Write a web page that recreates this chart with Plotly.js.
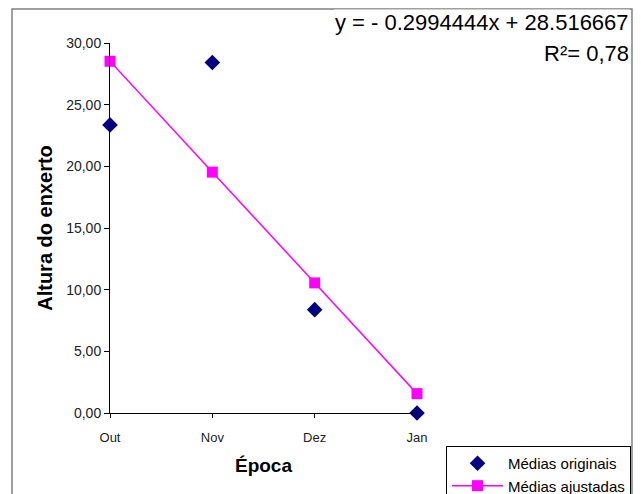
<!DOCTYPE html>
<html>
<head>
<meta charset="utf-8">
<script src="https://cdn.plot.ly/plotly-3.0.1.min.js"></script>
<style>html,body{margin:0;padding:0;background:#fff;}#chart{width:641px;height:494px;}</style>
</head>
<body>
<div id="chart"></div>
<script>
const categories = ["Out", "Nov", "Dez", "Jan"];
const mediasOriginais = [23.36, 28.42, 8.38, 0.0];
const mediasAjustadas = [28.52, 19.53, 10.55, 1.57];
const yTicks = [0, 5, 10, 15, 20, 25, 30];
const equationText = "y = - 0.2994444x + 28.516667";
const r2Text = "R²= 0,78";

const FONT = "Liberation Sans, Arial, sans-serif";

const traces = [
  {
    x: categories, y: mediasOriginais, name: "Médias originais",
    type: "scatter", mode: "markers", cliponaxis: false,
    marker: {symbol: "diamond", size: 12, color: "#000080"}
  },
  {
    x: categories, y: mediasAjustadas, name: "Médias ajustadas",
    type: "scatter", mode: "lines+markers", cliponaxis: false,
    line: {color: "#FF00FF", width: 1.5},
    marker: {symbol: "square", size: 11, color: "#FF00FF"}
  }
];

const layout = {
  width: 641, height: 494,
  margin: {l: 110, r: 224, t: 43, b: 81, autoexpand: false},
  paper_bgcolor: "#fff", plot_bgcolor: "#fff",
  separators: ",.",
  font: {family: FONT, color: "#000"},
  showlegend: true,
  xaxis: {
    type: "category", range: [0, 3],
    showgrid: false, zeroline: false,
    showline: true, linecolor: "#000", linewidth: 1,
    ticks: "outside", ticklen: 4, tickcolor: "#000",
    ticklabelstandoff: 8,
    tickfont: {family: FONT, size: 13, color: "#222"},
    title: {text: "<b>Época</b>", font: {family: FONT, size: 19, color: "#000"}, standoff: 15}
  },
  yaxis: {
    range: [0, 30], tickvals: yTicks, tickformat: ".2f",
    showgrid: false, zeroline: false,
    showline: true, linecolor: "#000", linewidth: 1,
    ticks: "outside", ticklen: 5, tickcolor: "#000",
    tickfont: {family: FONT, size: 14, color: "#222"},
    title: {text: "<b>Altura do enxerto</b>", font: {family: FONT, size: 20, color: "#000"}, standoff: 8}
  },
  legend: {
    x: 1.0945, y: -0.089, xanchor: "left", yanchor: "top",
    bgcolor: "#fff", bordercolor: "#000", borderwidth: 1,
    font: {family: FONT, size: 15, color: "#000"},
    itemwidth: 51,
    tracegroupgap: 2
  },
  shapes: [
    {type: "rect", xref: "paper", yref: "paper", x0: -0.3192, x1: 1.7003, y0: -0.25, y1: 1.0919,
     line: {color: "#808080", width: 1.5}, layer: "below"}
  ],
  annotations: [
    {xref: "paper", yref: "paper", x: 1.693, y: 1.092, xanchor: "right", yanchor: "top",
     text: equationText, showarrow: false, bgcolor: "#fff", borderpad: 0,
     font: {family: FONT, size: 22, color: "#000"}},
    {xref: "paper", yref: "paper", x: 1.693, y: 1.008, xanchor: "right", yanchor: "top",
     text: r2Text, showarrow: false, borderpad: 0,
     font: {family: FONT, size: 22, color: "#000"}}
  ]
};

Plotly.newPlot("chart", traces, layout, {displayModeBar: false, staticPlot: true});
</script>
</body>
</html>
